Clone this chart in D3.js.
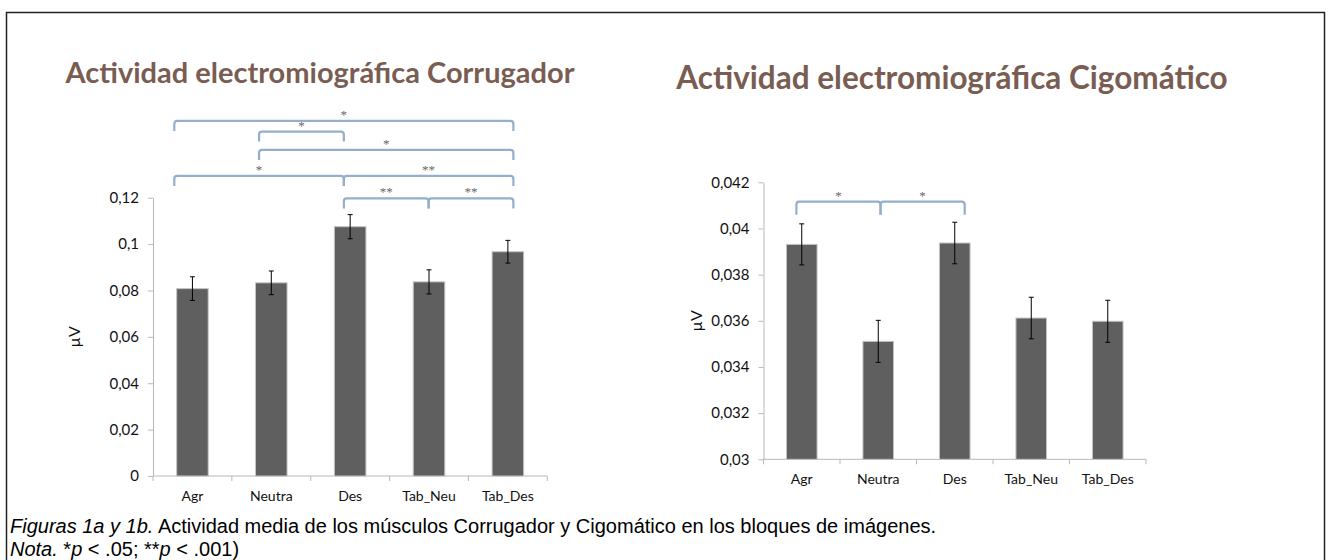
<!DOCTYPE html>
<html><head><meta charset="utf-8">
<script src="https://cdn.jsdelivr.net/npm/d3@7"></script>
<style>
html,body{margin:0;padding:0;background:#fff;}
svg{display:block;}
</style></head>
<body>
<svg id="chart" width="1330" height="560"></svg>
<script>
// ---------- data ----------
const categories = ["Agr", "Neutra", "Des", "Tab_Neu", "Tab_Des"];

const corrTitle = "Actividad electromiográfica Corrugador";
const corrMeans = [0.0808, 0.0833, 0.1075, 0.0837, 0.0967];
const corrErrors = [0.0051, 0.0051, 0.0052, 0.0052, 0.0049];
const corrTicks = [0, 0.02, 0.04, 0.06, 0.08, 0.1, 0.12];
// significance comparisons: [from, to, label, level (µV)]
const corrSig = [
  ["Agr", "Tab_Des", "*", 0.1531],
  ["Neutra", "Des", "*", 0.1485],
  ["Neutra", "Tab_Des", "*", 0.1406],
  ["Agr", "Des", "*", 0.1294],
  ["Des", "Tab_Des", "**", 0.1294],
  ["Des", "Tab_Neu", "**", 0.1197],
  ["Tab_Neu", "Tab_Des", "**", 0.1197]
];

const cigTitle = "Actividad electromiográfica Cigomático";
const cigMeans = [0.03931, 0.03511, 0.03937, 0.03612, 0.03598];
const cigErrors = [0.00089, 0.00091, 0.00090, 0.00090, 0.00091];
const cigTicks = [0.03, 0.032, 0.034, 0.036, 0.038, 0.04, 0.042];
const cigSig = [
  ["Agr", "Neutra", "*", 0.04116],
  ["Neutra", "Des", "*", 0.04116]
];

const yLabel = "µV";
const caption1Italic = "Figuras 1a y 1b.";
const caption1Rest = " Actividad media de los músculos Corrugador y Cigomático en los bloques de imágenes.";

// ---------- drawing ----------
const svg = d3.select("#chart");
const fmt = d => String(+d.toFixed(4)).replace(".", ",");

// frame
svg.append("rect").attr("x", 6.5).attr("y", 12.5).attr("width", 1318).attr("height", 600)
  .attr("fill", "none").attr("stroke", "#222").attr("stroke-width", 1.5);

function drawChart(cfg) {
  const g = svg.append("g");
  const x = d3.scaleBand().domain(categories).range([cfg.x0, cfg.x1]).paddingInner(0).paddingOuter(0);
  const y = d3.scaleLinear().domain(cfg.domain).range([cfg.yb, cfg.yt]);
  const bw = x.bandwidth();
  const barW = bw * 0.40;
  const cx = c => x(c) + bw / 2;

  // title
  g.append("text").attr("x", cfg.titleX).attr("y", cfg.titleY)
    .attr("text-anchor", "middle")
    .style("font-family", "Lato, 'Open Sans', sans-serif")
    .style("font-weight", 700).style("font-size", cfg.titleSize + "px")
    .attr("fill", "#7a5d52").text(cfg.title);

  // y axis
  const yAxis = d3.axisLeft(y).tickValues(cfg.ticks).tickFormat(fmt).tickSize(5).tickSizeOuter(0);
  const ya = g.append("g").attr("transform", `translate(${cfg.x0},0)`).call(yAxis);
  ya.select(".domain").attr("stroke", "#b8b8b8");
  ya.selectAll(".tick line").attr("stroke", "#b8b8b8");
  ya.selectAll(".tick text").attr("x", -14).attr("fill", "#111")
    .style("font-family", "Lato, sans-serif").style("font-size", "15px");

  // x axis (with boundary ticks)
  const xa = g.append("g").attr("transform", `translate(0,${cfg.yb})`);
  xa.append("line").attr("x1", cfg.x0).attr("x2", cfg.x1).attr("stroke", "#b8b8b8");
  const bounds = categories.map(c => x(c)).concat([cfg.x1]);
  xa.selectAll("line.bt").data(bounds).enter().append("line").attr("class", "bt")
    .attr("x1", d => d).attr("x2", d => d).attr("y1", 0).attr("y2", 5).attr("stroke", "#b8b8b8");
  xa.selectAll("text").data(categories).enter().append("text")
    .attr("x", d => cx(d)).attr("y", cfg.catDy).attr("text-anchor", "middle").attr("fill", "#111")
    .style("font-family", "Lato, sans-serif").style("font-size", "14px").text(d => d);

  // y label
  g.append("text").attr("transform", `translate(${cfg.yLabelX},${(cfg.yt + cfg.yb) / 2}) rotate(-90)`)
    .attr("text-anchor", "middle").attr("fill", "#111")
    .style("font-family", "Lato, sans-serif").style("font-size", "16px").text(yLabel);

  // bars
  g.selectAll("rect.bar").data(categories).enter().append("rect").attr("class", "bar")
    .attr("x", d => cx(d) - barW / 2).attr("width", barW)
    .attr("y", (d, i) => y(cfg.means[i])).attr("height", (d, i) => cfg.yb - y(cfg.means[i]))
    .attr("fill", "#5f5f5f").attr("stroke", "#c4c4c4").attr("stroke-width", 1);

  // error bars
  const eb = g.selectAll("g.eb").data(categories).enter().append("g").attr("class", "eb");
  eb.append("line").attr("x1", d => cx(d)).attr("x2", d => cx(d))
    .attr("y1", (d, i) => y(cfg.means[i] + cfg.errs[i])).attr("y2", (d, i) => y(cfg.means[i] - cfg.errs[i]))
    .attr("stroke", "#000").attr("stroke-width", 1);
  [1, -1].forEach(s => {
    eb.append("line").attr("x1", d => cx(d) - 2.5).attr("x2", d => cx(d) + 2.5)
      .attr("y1", (d, i) => y(cfg.means[i] + s * cfg.errs[i])).attr("y2", (d, i) => y(cfg.means[i] + s * cfg.errs[i]))
      .attr("stroke", "#000").attr("stroke-width", 1);
  });

  // significance brackets
  const ax = d3.scalePoint().domain(categories).range(cfg.anchorRange(cx, bw));
  const sg = g.selectAll("g.sig").data(cfg.sig).enter().append("g").attr("class", "sig");
  sg.append("path").attr("fill", "none").attr("stroke", "#93afcb").attr("stroke-width", 2.2)
    .attr("d", d => {
      const a = ax(d[0]), b = ax(d[1]), ly = y(d[3]), h = cfg.hook, r = 3;
      return `M${a},${ly + h} L${a},${ly + r} Q${a},${ly} ${a + r},${ly} L${b - r},${ly} Q${b},${ly} ${b},${ly + r} L${b},${ly + h}`;
    });
  sg.append("text").attr("x", d => (ax(d[0]) + ax(d[1])) / 2).attr("y", d => y(d[3]) - 2)
    .attr("text-anchor", "middle").attr("fill", "#666")
    .style("font-family", "'Liberation Serif', serif").style("font-size", "13px").text(d => d[2]);
}

drawChart({
  title: corrTitle, titleX: 320, titleY: 83, titleSize: 29,
  x0: 153, x1: 547.3, yb: 476, yt: 197.7, domain: [0, 0.12],
  ticks: corrTicks, means: corrMeans, errs: corrErrors, sig: corrSig,
  catDy: 25, yLabelX: 80, hook: 10,
  anchorRange: (cx, bw) => [cx("Agr") - 0.23 * bw, cx("Tab_Des") + 0.07 * bw]
});

drawChart({
  title: cigTitle, titleX: 952, titleY: 89, titleSize: 31.5,
  x0: 763.5, x1: 1146, yb: 459.3, yt: 182.3, domain: [0.03, 0.042],
  ticks: cigTicks, means: cigMeans, errs: cigErrors, sig: cigSig,
  catDy: 25, yLabelX: 702, hook: 13,
  anchorRange: (cx, bw) => [cx("Agr") - 0.07 * bw, cx("Agr") - 0.07 * bw + 4 * 1.1 * bw]
});

// caption
const capFont = "'Liberation Sans', Arial, sans-serif";
const cap = svg.append("text").attr("x", 10).attr("y", 533).attr("fill", "#000")
  .style("font-family", capFont).style("font-size", "20px");
cap.append("tspan").style("font-style", "italic").text(caption1Italic);
cap.append("tspan").text(caption1Rest);

const cap2 = svg.append("text").attr("x", 10).attr("y", 556).attr("fill", "#000")
  .style("font-family", capFont).style("font-size", "20px");
cap2.append("tspan").style("font-style", "italic").text("Nota.");
cap2.append("tspan").text(" *");
cap2.append("tspan").style("font-style", "italic").text("p");
cap2.append("tspan").text(" < .05; **");
cap2.append("tspan").style("font-style", "italic").text("p");
cap2.append("tspan").text(" < .001)");
</script>
</body></html>
